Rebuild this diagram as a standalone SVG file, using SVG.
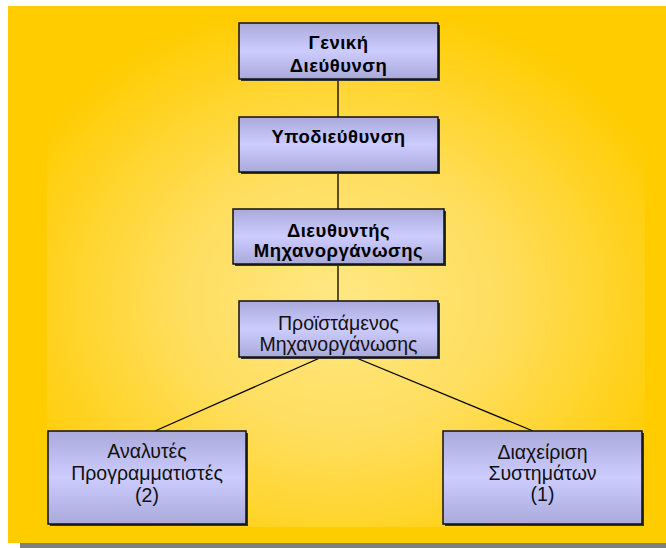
<svg xmlns="http://www.w3.org/2000/svg" width="666" height="548" viewBox="0 0 666 548">
  <defs>
    <radialGradient id="glow" cx="0.49" cy="0.55" r="0.6">
      <stop offset="0" stop-color="#FFE784"/>
      <stop offset="0.45" stop-color="#FFDE5E"/>
      <stop offset="1" stop-color="#FFCC00"/>
    </radialGradient>
    <linearGradient id="boxFill" x1="0" y1="0" x2="0" y2="1">
      <stop offset="0" stop-color="#A9A9DA"/>
      <stop offset="0.5" stop-color="#CCCCFF"/>
      <stop offset="1" stop-color="#A9A9DA"/>
    </linearGradient>
    <style>
      .box { fill: url(#boxFill); stroke: #111111; stroke-width: 1.5; }
      .shadow { fill: #333333; }
      .bold { font-family: "Liberation Sans", Arial, sans-serif; font-size: 18.5px; font-weight: bold; letter-spacing: 0.5px; fill: #000000; text-anchor: middle; }
      .reg { font-family: "Liberation Sans", Arial, sans-serif; font-size: 19.5px; fill: #111111; text-anchor: middle; }
      .link { stroke: #000000; stroke-width: 1.3; fill: none; }
    </style>
  </defs>

  <!-- backdrop panel with drop shadow -->
  <rect x="20" y="18" width="646" height="530" fill="#808080"/>
  <rect x="8" y="6" width="658" height="537" fill="#FFCC00"/>
  <rect x="47" y="22" width="598" height="505" fill="url(#glow)"/>

  <!-- connectors -->
  <g id="connectors">
    <line class="link" x1="338" y1="79" x2="338" y2="117"/>
    <line class="link" x1="338" y1="172" x2="338" y2="209"/>
    <line class="link" x1="338" y1="264" x2="338" y2="301"/>
    <line class="link" x1="322" y1="357" x2="155" y2="431"/>
    <line class="link" x1="354" y1="357" x2="533" y2="431"/>
  </g>

  <g id="general-directorate">
    <rect class="shadow" x="241" y="25" width="199" height="56"/>
    <rect class="box" x="239" y="23" width="199" height="56"/>
    <text class="bold" x="338.5" y="49">Γενική</text>
    <text class="bold" x="338.5" y="72">Διεύθυνση</text>
  </g>

  <g id="sub-directorate">
    <rect class="shadow" x="241" y="119" width="199" height="55"/>
    <rect class="box" x="239" y="117" width="199" height="55"/>
    <text class="bold" x="338.5" y="143">Υποδιεύθυνση</text>
  </g>

  <g id="mechanisation-director">
    <rect class="shadow" x="235" y="211" width="211" height="55"/>
    <rect class="box" x="233" y="209" width="211" height="55"/>
    <text class="bold" x="338.5" y="237">Διευθυντής</text>
    <text class="bold" x="338.5" y="257">Μηχανοργάνωσης</text>
  </g>

  <g id="mechanisation-head">
    <rect class="shadow" x="241" y="303" width="199" height="56"/>
    <rect class="box" x="239" y="301" width="199" height="56"/>
    <text class="reg" x="338.5" y="330">Προϊστάμενος</text>
    <text class="reg" x="338.5" y="351">Μηχανοργάνωσης</text>
  </g>

  <g id="analysts-programmers">
    <rect class="shadow" x="50" y="433" width="198" height="93"/>
    <rect class="box" x="48" y="431" width="198" height="93"/>
    <text class="reg" x="147" y="458">Αναλυτές</text>
    <text class="reg" x="147" y="480">Προγραμματιστές</text>
    <text class="reg" x="147" y="502">(2)</text>
  </g>

  <g id="systems-administration">
    <rect class="shadow" x="445" y="433" width="199" height="93"/>
    <rect class="box" x="443" y="431" width="199" height="93"/>
    <text class="reg" x="542.5" y="459">Διαχείριση</text>
    <text class="reg" x="542.5" y="480">Συστημάτων</text>
    <text class="reg" x="542.5" y="501">(1)</text>
  </g>
</svg>
